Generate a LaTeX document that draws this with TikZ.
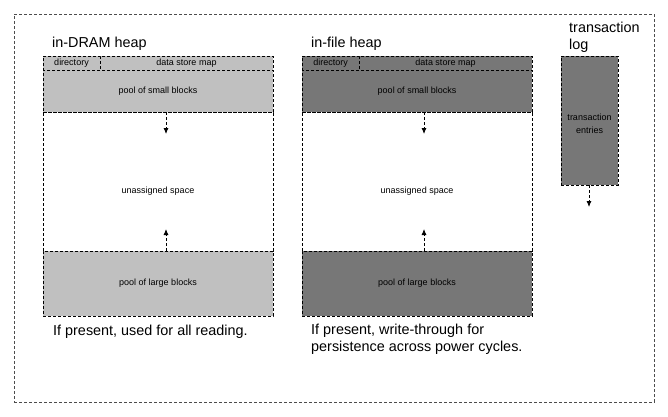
\documentclass[tikz,border=0pt]{standalone}
\usepackage{fontspec}
\setmainfont{Liberation Sans}
\usetikzlibrary{arrows.meta, positioning}
\definecolor{dramgray}{HTML}{C0C0C0}
\definecolor{filegray}{HTML}{777777}
\tikzset{
  part/.style={draw, line width=0.8pt, dash pattern=on 3pt off 2pt, rectangle, inner sep=0pt, outer sep=0pt,
    anchor=north west, font=\fontsize{9}{13}\selectfont},
  growline/.style={-{Latex[length=6pt, width=5pt]}, line width=0.8pt, dash pattern=on 3pt off 2pt},
  title/.style={inner sep=0pt, font=\fontsize{14.4}{16.5}\selectfont},
  freetext/.style={label={[font=\fontsize{9}{13}\selectfont, yshift=-9.5pt]center:#1}},
}

\begin{document}
\begin{tikzpicture}[x=1pt, y=-1pt]
    \useasboundingbox (0,0) rectangle (668,416);
    \node (frame) [part, draw=black!70, minimum width=640pt, minimum height=388pt] at (14,14) {};

    % in-DRAM heap
    \node (dramtitle) [title, anchor=base west] at (52,47) {in-DRAM heap};
    \node (dramdir) [part, fill=dramgray, minimum width=57pt, minimum height=14pt] at (43,56) {directory};
    \node (drammap) [part, fill=dramgray, minimum width=173pt, minimum height=14pt] at (100,56) {data store map};
    \node (dramsmall) [part, fill=dramgray, minimum width=230pt, minimum height=42pt] at (43,70) {pool of small blocks};
    \node (dramfree) [part, minimum width=230pt, minimum height=139pt, freetext=unassigned space] at (43,112) {};
    \node (dramlarge) [part, fill=dramgray, minimum width=230pt, minimum height=65pt] at (43,251) {pool of large blocks};
    \node (dramnote) [title, anchor=base west] at (53,335) {If present, used for all reading.};
    \coordinate (dramdown) at (166,134);
    \coordinate (dramup) at (166,229);
    \draw [growline] (dramsmall.south -| dramdown) -- (dramdown);
    \draw [growline] (dramlarge.north -| dramup) -- (dramup);

    % in-file heap
    \node (filetitle) [title, anchor=base west] at (311,47) {in-file heap};
    \node (filedir) [part, fill=filegray, minimum width=57pt, minimum height=14pt] at (302,56) {directory};
    \node (filemap) [part, fill=filegray, minimum width=173pt, minimum height=14pt] at (359,56) {data store map};
    \node (filesmall) [part, fill=filegray, minimum width=230pt, minimum height=42pt] at (302,70) {pool of small blocks};
    \node (filefree) [part, minimum width=230pt, minimum height=139pt, freetext=unassigned space] at (302,112) {};
    \node (filelarge) [part, fill=filegray, minimum width=230pt, minimum height=65pt] at (302,251) {pool of large blocks};
    \node (filenote) [title, anchor=north west, align=left] at (311,324) {If present, write-through for\\persistence across power cycles.};
    \coordinate (filedown) at (424,134);
    \coordinate (fileup) at (424,229);
    \draw [growline] (filesmall.south -| filedown) -- (filedown);
    \draw [growline] (filelarge.north -| fileup) -- (fileup);

    % transaction log
    \node (logtitle) [title, anchor=north west, align=left] at (569,22) {transaction\\log};
    \node (logentries) [part, fill=filegray, minimum width=57pt, minimum height=129pt,
      label={[font=\fontsize{9}{13}\selectfont, align=center, yshift=-3pt]center:transaction\\entries}] at (561,56) {};
    \coordinate (logdown) at (589,207);
    \draw [growline] (logentries.south -| logdown) -- (logdown);
\end{tikzpicture}
\end{document}
